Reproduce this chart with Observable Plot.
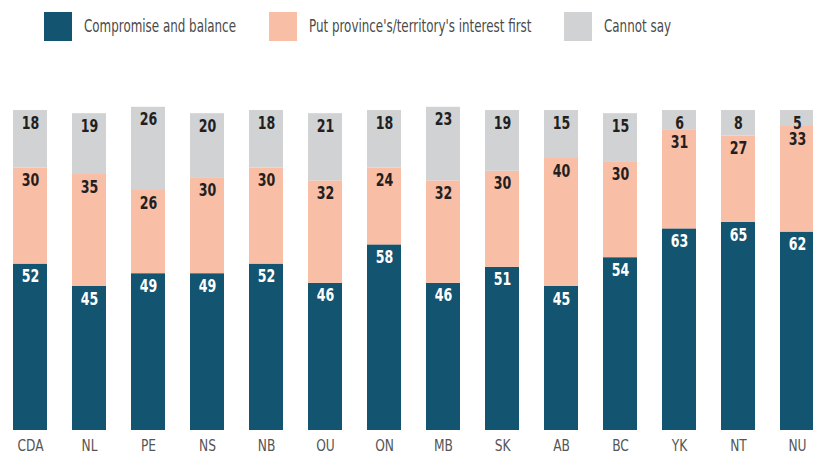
<!DOCTYPE html>
<html>
<head>
<meta charset="utf-8">
<script src="https://cdn.jsdelivr.net/npm/d3@7"></script>
<script src="https://cdn.jsdelivr.net/npm/@observablehq/plot@0.6"></script>
<style>
  html, body { margin: 0; padding: 0; background: #fff; overflow: hidden; }
  body { width: 813px; height: 457px; font-family: "DejaVu Sans Condensed", "DejaVu Sans", sans-serif; }
  #legend { position: relative; height: 60px; }
  .sw { position: absolute; top: 12px; width: 28px; height: 29px; }
  .lab { position: absolute; top: 16px; font-size: 18px; line-height: 20px; color: #4a4a4a; white-space: nowrap; transform-origin: 0 50%; }
  svg { display: block; }
</style>
</head>
<body>
<div id="legend"></div>
<div id="chart"></div>
<script>
const regions = ["CDA","NL","PE","NS","NB","OU","ON","MB","SK","AB","BC","YK","NT","NU"];
const series = ["Compromise and balance", "Put province's/territory's interest first", "Cannot say"];
const colors = ["#135470", "#f9bea6", "#d1d2d4"];
const compromise = [52,45,49,49,52,46,58,46,51,45,54,63,65,62];
const provinceFirst = [30,35,26,30,30,32,24,32,30,40,30,31,27,33];
const cannotSay = [18,19,26,20,18,21,18,23,19,15,15,6,8,5];

const valuesBySeries = [compromise, provinceFirst, cannotSay];
const data = [];
series.forEach((s, si) => regions.forEach((r, ri) => data.push({region: r, series: s, value: valuesBySeries[si][ri]})));

// legend
const legend = document.getElementById("legend");
const swatchLeft = [44, 269, 564];
const labels = [];
series.forEach((s, i) => {
  const sw = document.createElement("div"); sw.className = "sw";
  sw.style.background = colors[i]; sw.style.left = swatchLeft[i] + "px";
  const lb = document.createElement("span"); lb.className = "lab"; lb.textContent = s;
  lb.style.left = (swatchLeft[i] + 40) + "px";
  legend.appendChild(sw); legend.appendChild(lb); labels.push(lb);
});
const natural = labels[0].getBoundingClientRect().width;
const k = 152 / natural;
labels.forEach(lb => lb.style.transform = `scaleX(${k})`);

const plot = Plot.plot({
  width: 813,
  height: 397,
  marginTop: 50,
  marginBottom: 27,
  marginLeft: 0,
  marginRight: 0,
  style: {fontFamily: '"DejaVu Sans Condensed", "DejaVu Sans", sans-serif', background: "#fff"},
  x: {domain: regions, range: [0, 827], paddingInner: 0.429, paddingOuter: 0.163, label: null},
  y: {domain: [0, 100], axis: null},
  color: {domain: series, range: colors},
  marks: [
    Plot.barY(data, Plot.stackY({x: "region", y: "value", fill: "series", order: series})),
    Plot.text(data, Plot.stackY2({x: "region", y: "value", z: "series", order: series, text: d => String(d.value), dy: 12.5,
      fill: d => d.series === series[0] ? "#ffffff" : "#231f20", fontWeight: "bold", fontSize: 17.5, className: "num"})),
    Plot.axisX({tickSize: 0, tickPadding: 9, fontSize: 16, fill: "#555", label: null, className: "xax"})
  ]
});
document.getElementById("chart").appendChild(plot);

function squeeze(sel, sx) {
  plot.querySelectorAll(sel).forEach(t => {
    const b = t.getBBox();
    const cx = b.x + b.width / 2, cy = b.y + b.height / 2;
    const prev = t.getAttribute("transform") || "";
    t.setAttribute("transform", `${prev} translate(${cx},${cy}) scale(${sx},1) translate(${-cx},${-cy})`);
  });
}
squeeze(".num text", 0.8);
plot.querySelectorAll(".xax text").forEach(t => t.setAttribute("font-weight", "300"));
squeeze(".xax text", 0.85);
</script>
</body>
</html>
